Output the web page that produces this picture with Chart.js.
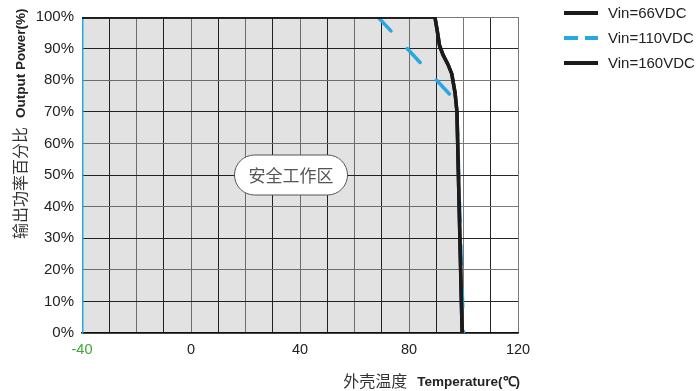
<!DOCTYPE html>
<html lang="zh">
<head>
<meta charset="utf-8">
<title>输出功率降额曲线</title>
<script src="https://cdn.jsdelivr.net/npm/chart.js@4.4.1/dist/chart.umd.min.js"></script>
<style>
  html, body { margin: 0; padding: 0; background: #fff; }
  #wrap { width: 698px; height: 391px; }
</style>
</head>
<body>
<div id="wrap"><canvas id="myChart" width="698" height="391"></canvas></div>
<script>
"use strict";

// Värden
const seriesNames = ["Vin=66VDC", "Vin=110VDC", "Vin=160VDC"];
const tempLabels = [-40, 0, 40, 80, 120]; // bara dessa får text på x-axeln

const temp66 = [-40, 89.5, 90.3, 91.2, 92.5, 94.3, 95.7, 96.9, 97.6, 98.4, 99.5];
const power66 = [100, 100, 96, 91, 88, 85, 82, 76, 70, 40, 0];

const temp110 = [-40, -40, 68.6, 95.5, 97.6, 98.6, 100];
const power110 = [0, 100, 100, 75, 70, 40, 0];

const temp160 = [-40, 89.5, 90.3, 91.2, 92.5, 94.3, 95.7, 96.9, 97.6, 98.4, 99.5];
const power160 = [100, 100, 96, 91, 88, 85, 82, 76, 70, 40, 0];

const areaText = "安全工作区";
const xTitleCn = "外壳温度";
const xTitleEn = "Temperature(℃)";
const yTitleCn = "输出功率百分比";
const yTitleEn = "Output Power(%)";

const cjkFont = '"Noto Sans CJK SC", sans-serif';
const latinFont = '"Liberation Sans", Arial, sans-serif';

//Gör om två listor till punkter som Chart.js förstår
function toPoints(xs, ys) {
  return xs.map((x, i) => ({ x: x, y: ys[i] }));
}

//Varannan linje i rutnätet är mörkare
function gridColor(c) {
  return c.tick && c.tick.value % 20 === 0 ? "#7a7a7a" : "#262626";
}

//Egen plugin: rutan i mitten, axeltitlar och förklaringen till höger
const extras = {
  id: "extras",
  afterDraw(chart) {
    const ctx = chart.ctx;
    const xs = chart.scales.x;
    const ys = chart.scales.y;

    // rundad ruta "安全工作区"
    const cx = xs.getPixelForValue(36.7);
    const cy = ys.getPixelForValue(50);
    const w = 113, h = 40, r = 20;
    ctx.save();
    ctx.beginPath();
    ctx.moveTo(cx - w / 2 + r, cy - h / 2);
    ctx.lineTo(cx + w / 2 - r, cy - h / 2);
    ctx.arc(cx + w / 2 - r, cy, r, -Math.PI / 2, Math.PI / 2);
    ctx.lineTo(cx - w / 2 + r, cy + h / 2);
    ctx.arc(cx - w / 2 + r, cy, r, Math.PI / 2, Math.PI * 1.5);
    ctx.closePath();
    ctx.fillStyle = "#fff";
    ctx.fill();
    ctx.strokeStyle = "#555";
    ctx.lineWidth = 1;
    ctx.stroke();
    ctx.fillStyle = "#555";
    ctx.font = "17px " + cjkFont;
    ctx.textAlign = "center";
    ctx.textBaseline = "middle";
    ctx.fillText(areaText, cx, cy + 1);

    // x-titel, högerställd mot diagrammets kant
    ctx.textBaseline = "middle";
    ctx.textAlign = "right";
    ctx.fillStyle = "#222";
    ctx.font = "bold 13.5px " + latinFont;
    const enW = ctx.measureText(xTitleEn).width;
    ctx.fillText(xTitleEn, chart.chartArea.right + 2, 382);
    ctx.fillStyle = "#333";
    ctx.font = "16px " + cjkFont;
    ctx.fillText(xTitleCn, chart.chartArea.right + 2 - enW - 10, 381);

    // y-titel, roterad och läst nerifrån och upp
    ctx.translate(20, 239);
    ctx.rotate(-Math.PI / 2);
    ctx.textAlign = "left";
    ctx.fillStyle = "#333";
    ctx.font = "16px " + cjkFont;
    ctx.fillText(yTitleCn, 0, 0);
    const cnW = ctx.measureText(yTitleCn).width;
    ctx.fillStyle = "#222";
    ctx.font = "bold 13.5px " + latinFont;
    ctx.fillText(yTitleEn, cnW + 9, 1);
    ctx.restore();

    // förklaring
    ctx.save();
    ctx.font = "15px " + latinFont;
    ctx.textAlign = "left";
    ctx.textBaseline = "middle";
    chart.data.datasets.forEach((ds, i) => {
      const y = 13 + i * 25;
      ctx.beginPath();
      ctx.setLineDash(ds.borderDash ? [14, 7] : []);
      ctx.strokeStyle = ds.borderColor;
      ctx.lineWidth = 4;
      ctx.moveTo(564, y);
      ctx.lineTo(598, y);
      ctx.stroke();
      ctx.setLineDash([]);
      ctx.fillStyle = "#222";
      ctx.fillText(ds.label, 608, y + 1);
    });
    ctx.restore();
  }
};

const ctx = document.getElementById("myChart");

new Chart(ctx, {
  type: "line",
  data: {
    datasets: [
      {
        label: seriesNames[0],
        data: toPoints(temp66, power66),
        borderColor: "#1b1b1b",
        borderWidth: 3.5,
        pointRadius: 0,
        fill: false,
        order: 1
      },
      {
        label: seriesNames[1],
        data: toPoints(temp110, power110),
        borderColor: "#27a8e0",
        borderWidth: 3.5,
        borderDash: [19, 24],
        borderCapStyle: "round",
        pointRadius: 0,
        fill: false,
        order: 2,
        // vänsterkanten och överkanten ritas hela, streckningen börjar i hörnet vid 70°C
        segment: {
          borderDash: s => (s.p0DataIndex < 2 ? [] : undefined),
          borderWidth: s => (s.p0DataIndex < 2 ? 3 : undefined)
        }
      },
      {
        label: seriesNames[2],
        data: toPoints(temp160, power160),
        borderColor: "#1b1b1b",
        borderWidth: 3.5,
        pointRadius: 0,
        fill: "origin",
        backgroundColor: "rgba(0,0,0,0.115)",
        order: 0
      }
    ]
  },
  options: {
    responsive: false,
    animation: false,
    layout: { padding: { top: 13, right: 180, left: 0, bottom: 0 } },
    plugins: {
      legend: { display: false },
      tooltip: { enabled: false },
      filler: { drawTime: "beforeDatasetsDraw" }
    },
    scales: {
      x: {
        type: "linear",
        min: -40,
        max: 120,
        afterFit: s => { s.height = 58; },
        ticks: {
          stepSize: 10,
          autoSkip: false,
          maxRotation: 0,
          padding: 8,
          font: { family: latinFont, size: 14.5 },
          color: c => (c.tick && c.tick.value === -40 ? "#3aa935" : "#222"),
          callback: v => (tempLabels.includes(v) ? String(v) : "")
        },
        grid: { color: gridColor, lineWidth: 1, drawTicks: false },
        border: { color: "#111", width: 1.5 }
      },
      y: {
        min: 0,
        max: 100,
        afterFit: s => { s.width = 82; },
        ticks: {
          stepSize: 10,
          padding: 8,
          font: { family: latinFont, size: 15 },
          color: "#222",
          callback: v => v + "%"
        },
        grid: { color: gridColor, lineWidth: 1, drawTicks: false },
        border: { color: "#777", width: 1 }
      }
    }
  },
  plugins: [extras]
});
</script>
</body>
</html>
